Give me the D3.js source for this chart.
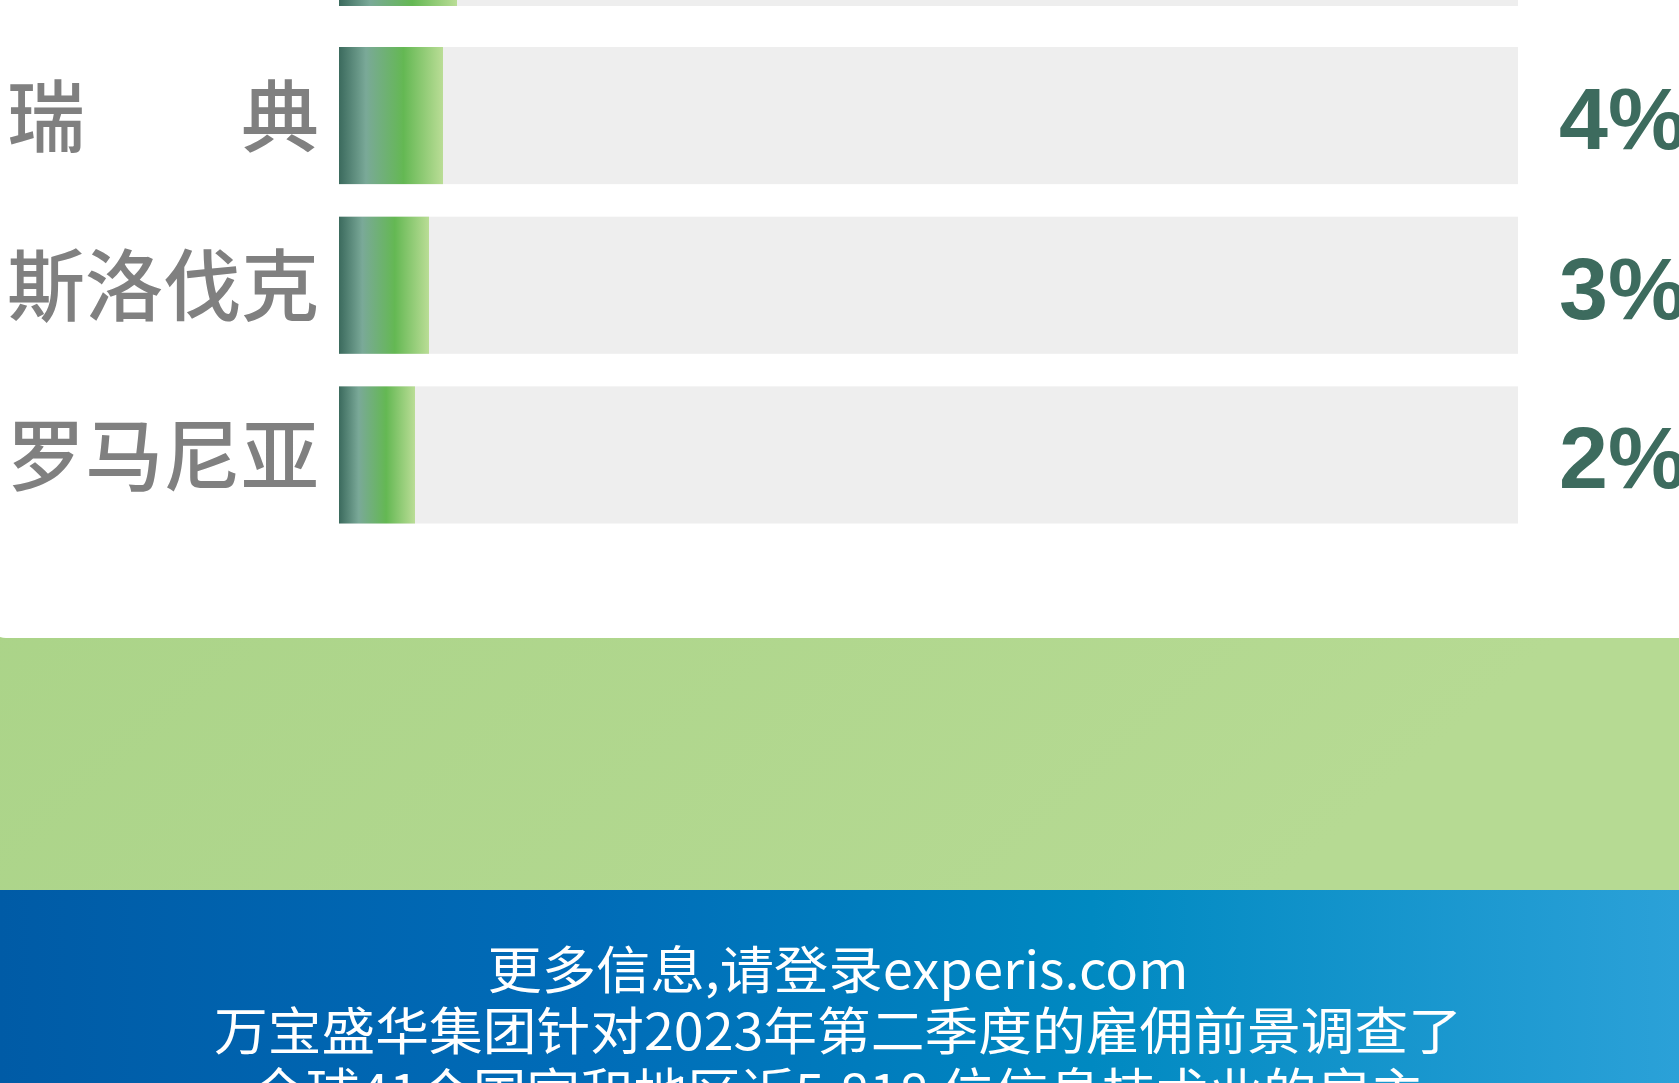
<!DOCTYPE html>
<html><head><meta charset="utf-8">
<script src="https://cdn.jsdelivr.net/npm/d3@7"></script>
<style>html,body{margin:0;padding:0;background:#fff;overflow:hidden}</style>
</head><body>
<svg id="c" width="1679" height="1083"></svg>
<script>
// ---- data ----
const prevRowValue = 5;                       // row above, cut off at the top edge
const countries = ["瑞　　典", "斯洛伐克", "罗马尼亚"];
const values = [4, 3, 2];
const valueLabels = ["4%", "3%", "2%"];
const footerLines = [
  "更多信息,请登录experis.com",
  "万宝盛华集团针对2023年第二季度的雇佣前景调查了",
  "全球41个国家和地区近5,818 位信息技术业的雇主"
];

const W = 1679, H = 1083;
const svg = d3.select("#c");
const defs = svg.append("defs");

// gradients
const gBar = defs.append("linearGradient").attr("id","gBar").attr("x1","0").attr("x2","1").attr("y1","0").attr("y2","0");
[["0%","#3b6a5d"],["26%","#7aa998"],["62%","#64b853"],["100%","#badd96"]].forEach(s=>gBar.append("stop").attr("offset",s[0]).attr("stop-color",s[1]));
const gGreen = defs.append("linearGradient").attr("id","gGreen").attr("x1","0").attr("y1","0").attr("x2","1").attr("y2","0.6");
[["0%","#a6d184"],["100%","#b6da93"]].forEach(s=>gGreen.append("stop").attr("offset",s[0]).attr("stop-color",s[1]));
const gBlue = defs.append("linearGradient").attr("id","gBlue").attr("x1","0").attr("x2","1").attr("y1","0").attr("y2","0");
[["0%","#005ba6"],["35%","#006cb8"],["65%","#0089c1"],["100%","#2ba1d8"]].forEach(s=>gBlue.append("stop").attr("offset",s[0]).attr("stop-color",s[1]));

// backgrounds
svg.append("rect").attr("x",0).attr("y",0).attr("width",W).attr("height",890).attr("fill","url(#gGreen)");
svg.append("rect").attr("x",0).attr("y",890).attr("width",W).attr("height",H-890).attr("fill","url(#gBlue)");
svg.append("rect").attr("x",-12).attr("y",-40).attr("width",W+60).attr("height",678).attr("rx",18).attr("fill","#fff");

// scales
const x = d3.scaleLinear().domain([-3.43, 80.8]).range([339, 1518]);
const x0 = x.domain()[0];
const y = d3.scaleBand().domain(countries).range([47, 523.5]).paddingInner(0.192).paddingOuter(0);
const bh = y.bandwidth();
const prevY = y.range()[0] - 41 - bh;

// previous (cut) row
svg.append("rect").attr("x",x(x0)).attr("y",prevY).attr("width",x.range()[1]-x(x0)).attr("height",bh).attr("fill","#eeeeee");
svg.append("rect").attr("x",x(x0)).attr("y",prevY).attr("width",x(prevRowValue)-x(x0)).attr("height",bh).attr("fill","url(#gBar)");

const rows = countries.map((c,i)=>({c, v:values[i], l:valueLabels[i]}));
const g = svg.append("g");
g.selectAll("rect.track").data(rows).join("rect").attr("class","track")
  .attr("x",x(x0)).attr("y",d=>y(d.c)).attr("width",x.range()[1]-x(x0)).attr("height",bh).attr("fill","#eeeeee");
g.selectAll("rect.bar").data(rows).join("rect").attr("class","bar")
  .attr("x",x(x0)).attr("y",d=>y(d.c)).attr("width",d=>x(d.v)-x(x0)).attr("height",bh).attr("fill","url(#gBar)");
g.selectAll("text.name").data(rows).join("text").attr("class","name")
  .attr("x",7).attr("y",d=>y(d.c)+bh/2-4).attr("dominant-baseline","central")
  .attr("font-family","'Noto Sans CJK SC','Noto Sans',sans-serif").attr("font-size",78).attr("font-weight",500)
  .attr("fill","#808080").text(d=>d.c);
g.selectAll("text.val").data(rows).join("text").attr("class","val")
  .attr("x",1559).attr("y",d=>y(d.c)+bh/2+0.358*88+2)
  .attr("font-family","'Liberation Sans',Arial,sans-serif").attr("font-size",88).attr("font-weight","bold")
  .attr("fill","#3d6b5e").text(d=>d.l);

// footer text
const fw = [701, 1248, 1172];
svg.selectAll("text.foot").data(footerLines).join("text").attr("class","foot")
  .attr("x",838).attr("y",(d,i)=>989+i*61).attr("text-anchor","middle")
  .attr("font-family","'Noto Sans CJK SC','Noto Sans',sans-serif").attr("font-size",51)
  .attr("textLength",(d,i)=>fw[i]).attr("lengthAdjust","spacingAndGlyphs")
  .attr("fill","#fff").text(d=>d);
</script>
</body></html>
